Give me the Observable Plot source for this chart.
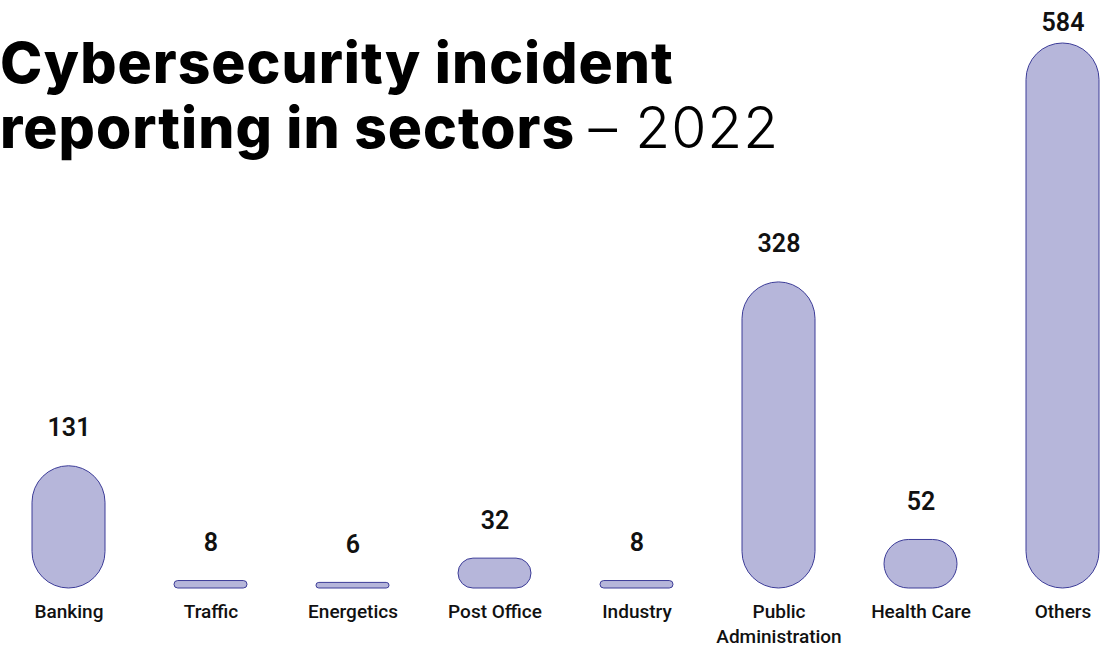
<!DOCTYPE html>
<html>
<head>
<meta charset="utf-8">
<script src="https://cdn.jsdelivr.net/npm/d3@7"></script>
<script src="https://cdn.jsdelivr.net/npm/@observablehq/plot@0.6"></script>
<style>
  html, body { margin: 0; padding: 0; background: #ffffff; }
  #wrap { position: relative; width: 1108px; height: 648px; overflow: hidden; }
  #title {
    position: absolute; left: 0; top: 30px;
    font-family: Inter, "Noto Sans", sans-serif;
    font-size: 57px; line-height: 65px; font-weight: 800;
    letter-spacing: 1px; color: #000; white-space: nowrap;
  }
  #title .light { font-weight: 300; }
  #chart { position: absolute; left: 0; top: 0; }
</style>
</head>
<body>
<div id="wrap">
  <div id="chart"></div>
  <div id="title">Cybersecurity incident<br>reporting in sectors <span class="light">– 2022</span></div>
</div>
<script>
const sectors = ["Banking", "Traffic", "Energetics", "Post Office", "Industry", "Public Administration", "Health Care", "Others"];
const incidents = [131, 8, 6, 32, 8, 328, 52, 584];
const sectorLabels = ["Banking", "Traffic", "Energetics", "Post Office", "Industry", "Public\nAdministration", "Health Care", "Others"];

const data = sectors.map((s, i) => ({sector: s, value: incidents[i], label: sectorLabels[i]}));
const maxValue = d3.max(incidents);

const fillColor = "#b6b6da";
const strokeColor = "#3c3c98";

const plot = Plot.plot({
  width: 1108,
  height: 648,
  marginTop: 43,
  marginBottom: 60,
  marginLeft: 31,
  marginRight: 9,
  style: {fontFamily: "Roboto, sans-serif", background: "transparent"},
  x: {domain: sectors, paddingInner: 0.486, paddingOuter: 0, axis: null},
  y: {domain: [0, maxValue], axis: null},
  marks: [
    Plot.barY(data, {x: "sector", y: "value", fill: fillColor, stroke: strokeColor, strokeWidth: 1}),
    Plot.text(data.filter(d => d.value < maxValue), {
      x: "sector", y: "value", text: d => String(d.value),
      dy: -38, fontSize: 25, fontWeight: 600, fill: "#111"
    }),
    Plot.text(data.filter(d => d.value === maxValue), {
      x: "sector", y: "value", text: d => String(d.value),
      dy: -21, fontSize: 25, fontWeight: 600, fill: "#111"
    }),
    Plot.text(data, {
      x: "sector", y: () => 0, text: "label",
      lineAnchor: "top", dy: 12, fontSize: 19, fontWeight: 500, lineHeight: 1.32, fill: "#111"
    })
  ]
});

// pill-shaped bars: corner radius = half the smaller side
plot.querySelectorAll('g[aria-label="bar"] rect').forEach(r => {
  const w = +r.getAttribute("width"), h = +r.getAttribute("height");
  const rad = Math.min(w, h) / 2;
  r.setAttribute("rx", rad);
  r.setAttribute("ry", rad);
});

document.getElementById("chart").appendChild(plot);
</script>
</body>
</html>
